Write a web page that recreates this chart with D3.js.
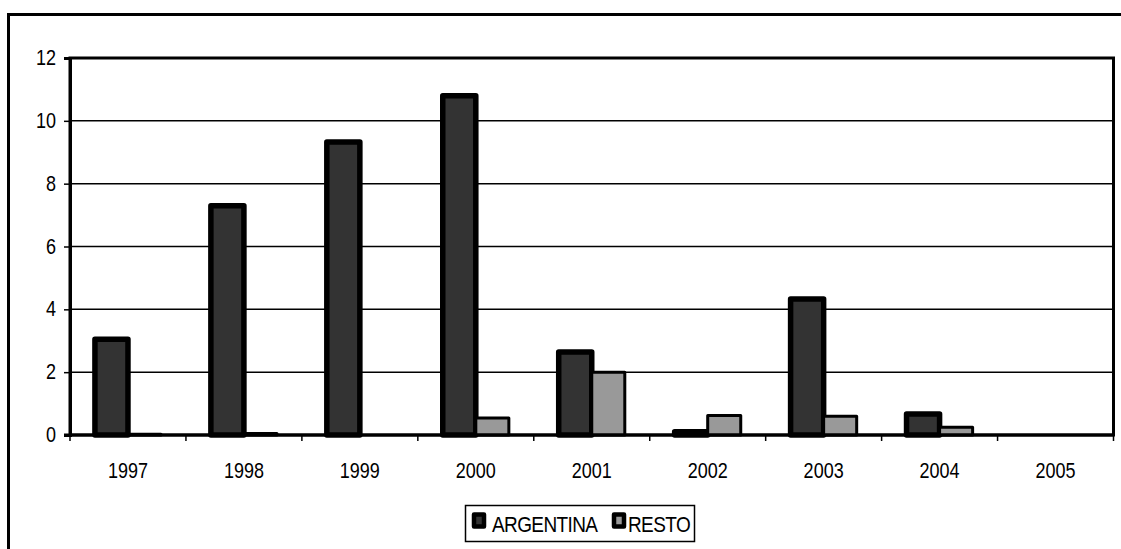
<!DOCTYPE html>
<html>
<head>
<meta charset="utf-8">
<script src="https://cdn.jsdelivr.net/npm/d3@7"></script>
<style>
  html, body { margin: 0; padding: 0; background: #fff; }
  svg { display: block; }
  text { font-family: "Liberation Sans", Arial, sans-serif; fill: #000; }
</style>
</head>
<body>
<svg id="chart" width="1121" height="549"></svg>
<script>
// Yearly values per series
const years = ["1997", "1998", "1999", "2000", "2001", "2002", "2003", "2004", "2005"];
const argentina = [3.05, 7.3, 9.33, 10.8, 2.64, 0.1, 4.33, 0.67, 0];
const resto = [0.02, 0.05, 0, 0.54, 2.0, 0.62, 0.6, 0.25, 0];
const seriesNames = ["ARGENTINA", "RESTO"];
const seriesColors = ["#333333", "#999999"];
const yTicks = [0, 2, 4, 6, 8, 10, 12];

const svg = d3.select("#chart");
const plot = { left: 70, top: 58, right: 1113.5, bottom: 435 };
const STRETCH = 1.2; // glyphs are drawn slightly taller than wide

// Places a text element at (x, y) with vertically stretched glyphs
function stretched(sel, x, y) {
  sel.attr("x", 0).attr("y", 0)
    .attr("transform", `translate(${x},${y}) scale(1,${STRETCH})`);
}

// Outer chart frame (runs past the right and bottom edges)
svg.append("rect")
  .attr("x", 8.5).attr("y", 14.5)
  .attr("width", 1200).attr("height", 600)
  .attr("fill", "none").attr("stroke", "#000").attr("stroke-width", 3);

const x0 = d3.scaleBand()
  .domain(years)
  .range([plot.left, plot.right])
  .paddingInner(0.43)
  .paddingOuter(0.215);

const x1 = d3.scaleBand()
  .domain(seriesNames)
  .range([0, x0.bandwidth()]);

const y = d3.scaleLinear().domain([0, 12]).range([plot.bottom, plot.top]);

// Horizontal gridlines
svg.append("g")
  .selectAll("line")
  .data(yTicks.filter(d => d > 0 && d < 12))
  .join("line")
  .attr("x1", plot.left).attr("x2", plot.right)
  .attr("y1", d => y(d)).attr("y2", d => y(d))
  .attr("stroke", "#000").attr("stroke-width", 1.5);

// Plot area border
svg.append("rect")
  .attr("x", plot.left).attr("y", plot.top)
  .attr("width", plot.right - plot.left).attr("height", plot.bottom - plot.top)
  .attr("fill", "none").attr("stroke", "#000").attr("stroke-width", 3);

// Bars
const series = [argentina, resto];
const strokeW = [5.5, 3];
series.forEach((vals, si) => {
  svg.append("g")
    .selectAll("rect")
    .data(years.map((yr, i) => ({ yr, v: vals[i] })).filter(d => d.v > 0))
    .join("rect")
    .attr("x", d => x0(d.yr) + x1(seriesNames[si]))
    .attr("width", x1.bandwidth())
    .attr("y", d => y(d.v))
    .attr("height", d => y(0) - y(d.v))
    .attr("fill", seriesColors[si])
    .attr("stroke", "#000")
    .attr("stroke-width", strokeW[si])
    .attr("stroke-linejoin", "round");
});

// Y axis
const yAxis = svg.append("g")
  .attr("transform", `translate(${plot.left},0)`)
  .call(d3.axisLeft(y).tickValues(yTicks).tickSize(6).tickPadding(8).tickFormat(d3.format("d")));
yAxis.select(".domain").attr("stroke", "#000").attr("stroke-width", 3);
yAxis.selectAll(".tick line").attr("stroke", "#000").attr("stroke-width", 1.5);
yAxis.selectAll(".tick text")
  .attr("font-size", 18)
  .attr("font-family", "'Liberation Sans', Arial, sans-serif")
  .attr("dy", null)
  .each(function () { stretched(d3.select(this), -14, 6.5); });

// X axis: ticks fall between categories
const xAxisG = svg.append("g").attr("transform", `translate(0,${plot.bottom})`);
const boundaries = d3.range(years.length + 1).map(i => plot.left + i * x0.step());
xAxisG.selectAll("line.tk")
  .data(boundaries)
  .join("line")
  .attr("class", "tk")
  .attr("x1", d => d).attr("x2", d => d)
  .attr("y1", 0).attr("y2", 6)
  .attr("stroke", "#000").attr("stroke-width", 1.5);
xAxisG.append("line")
  .attr("x1", plot.left - 6).attr("x2", plot.right)
  .attr("y1", 0).attr("y2", 0)
  .attr("stroke", "#000").attr("stroke-width", 3);
xAxisG.selectAll("text")
  .data(years)
  .join("text")
  .attr("text-anchor", "middle")
  .attr("font-size", 18)
  .text(d => d)
  .each(function (d) { stretched(d3.select(this), x0(d) + x0.bandwidth() / 2, 43); });

// Legend
const lg = svg.append("g");
lg.append("rect")
  .attr("x", 465.5).attr("y", 505.5).attr("width", 229).attr("height", 36)
  .attr("fill", "#fff").attr("stroke", "#000").attr("stroke-width", 1.5);
const legendItems = [
  { name: seriesNames[0], color: seriesColors[0], sx: 474, tx: 492 },
  { name: seriesNames[1], color: seriesColors[1], sx: 614, tx: 628 }
];
legendItems.forEach(it => {
  lg.append("rect")
    .attr("x", it.sx).attr("y", 514.5).attr("width", 10).attr("height", 12)
    .attr("fill", it.color).attr("stroke", "#000").attr("stroke-width", 4.5)
    .attr("stroke-linejoin", "round");
  lg.append("text")
    .attr("font-size", 19)
    .attr("letter-spacing", -0.6)
    .text(it.name)
    .call(s => stretched(s, it.tx, 532));
});
</script>
</body>
</html>
